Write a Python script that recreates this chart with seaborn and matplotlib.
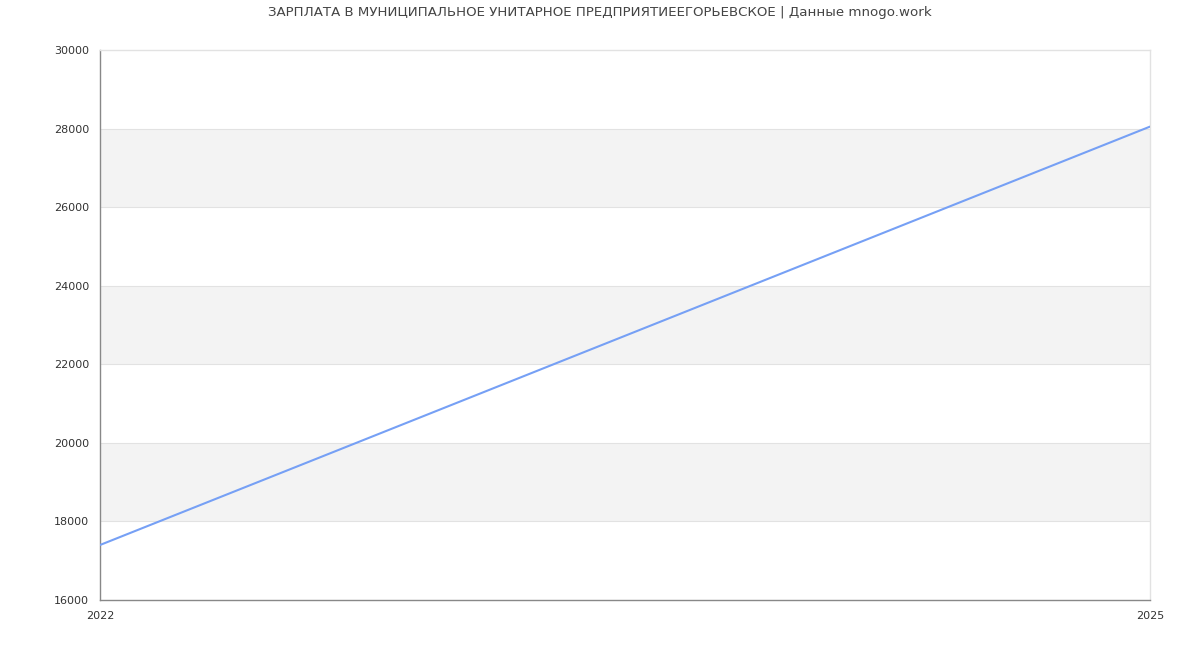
import pandas as pd
import seaborn as sns
import matplotlib.pyplot as plt

# --- DATA ---
years = [2022, 2025]
salary = [17400, 28050]
y_ticks = [16000, 18000, 20000, 22000, 24000, 26000, 28000, 30000]
title = "ЗАРПЛАТА В МУНИЦИПАЛЬНОЕ УНИТАРНОЕ ПРЕДПРИЯТИЕЕГОРЬЕВСКОЕ | Данные mnogo.work"

df = pd.DataFrame({"year": years, "salary": salary})

sns.set_style("white")
plt.rcParams['font.family'] = ['DejaVu Sans']

fig = plt.figure(figsize=(12, 6.5), dpi=100)
ax = fig.add_axes([100 / 1200, 50 / 650, 1050 / 1200, 550 / 650])

# alternating bands
for i in range(len(y_ticks) - 1):
    if i % 2 == 1:
        ax.axhspan(y_ticks[i], y_ticks[i + 1], color='#f3f3f3', zorder=0, lw=0)
for t in y_ticks[1:-1]:
    ax.axhline(t, color='#e2e2e2', lw=0.8, zorder=1)

sns.lineplot(x='year', y='salary', data=df, color='#76a0f5', linewidth=1.5, ax=ax, zorder=3)

ax.set_xlim(years[0], years[-1])
ax.set_ylim(y_ticks[0], y_ticks[-1])
ax.set_xticks(years)
ax.set_xticklabels([str(y) for y in years])
ax.set_yticks(y_ticks)
ax.set_yticklabels([str(t) for t in y_ticks])
ax.tick_params(axis='y', length=0, labelsize=8, labelcolor='#333333', pad=8)
ax.tick_params(axis='x', length=0, labelsize=8, labelcolor='#333333', pad=8)
ax.set_xlabel("")
ax.set_ylabel("")

for side in ['left', 'bottom']:
    ax.spines[side].set_color('#888888')
    ax.spines[side].set_linewidth(1)
for side in ['top', 'right']:
    ax.spines[side].set_color('#e2e2e2')
    ax.spines[side].set_linewidth(1)

fig.suptitle(title, fontsize=9.6, color='#444444', y=0.991, va='top')

fig.savefig("out.png", dpi=100)
